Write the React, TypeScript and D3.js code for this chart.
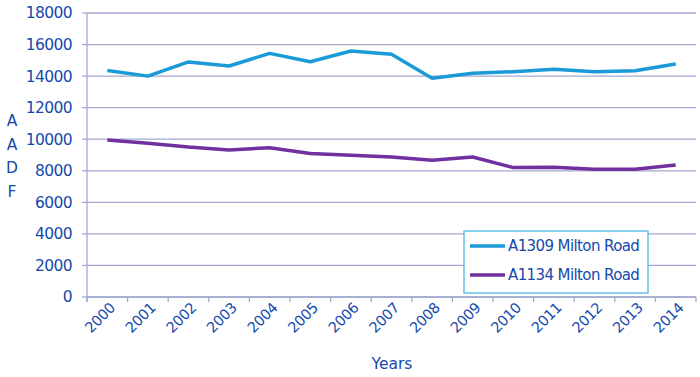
import React from "react";
import * as d3 from "d3";

const years = ["2000","2001","2002","2003","2004","2005","2006","2007","2008","2009","2010","2011","2012","2013","2014"];
const a1309 = [14350,14000,14900,14640,15440,14910,15590,15380,13860,14180,14280,14430,14280,14340,14770];
const a1134 = [9950,9740,9500,9320,9460,9100,8980,8870,8660,8870,8200,8220,8090,8090,8360];
const yTicks = [0,2000,4000,6000,8000,10000,12000,14000,16000,18000];
const seriesNames = ["A1309 Milton Road","A1134 Milton Road"];
const seriesColors = ["#1B9AD8","#7030A0"];
const yTitle = ["A","A","D","F"];

const W = 700, H = 377;
const left = 87, right = 696, top = 13, bottom = 297;
const textColor = "#1549AC";
const gridColor = "#A3A9D0";
const font = "DejaVu Sans, Verdana, sans-serif";

export default function App() {
  const x = d3.scaleBand().domain(years).range([left, right]);
  const y = d3.scaleLinear().domain([0, 18000]).range([bottom, top]);
  const line = d3.line<number>().x((_, i) => x(years[i])! + x.bandwidth() / 2).y(d => y(d));
  const series = [a1309, a1134];
  const boundaries = years.map(yr => x(yr)!).concat([right]);
  return (
    <svg width={W} height={H} style={{ position: "absolute", left: 0, top: 0 }} fontFamily={font}>
      <rect width={W} height={H} fill="#fff" />
      {yTicks.map(t => (
        <g key={t}>
          <line x1={left} x2={right} y1={y(t)} y2={y(t)} stroke={gridColor} strokeWidth={1.3} />
          <line x1={left - 5} x2={left} y1={y(t)} y2={y(t)} stroke={gridColor} strokeWidth={1.3} />
          <text x={72} y={y(t)} dy="0.35em" textAnchor="end" fontSize={15.5} fill={textColor} letterSpacing={-0.6}>{t}</text>
        </g>
      ))}
      <line x1={left} x2={left} y1={top} y2={bottom + 5} stroke={gridColor} strokeWidth={1.3} />
      <line x1={left} x2={right} y1={bottom} y2={bottom} stroke={gridColor} strokeWidth={1.5} />
      {boundaries.map((b, i) => (
        <line key={i} x1={b} x2={b} y1={bottom} y2={bottom + 5} stroke={gridColor} strokeWidth={1.3} />
      ))}
      {years.map(yr => {
        const cx = x(yr)! + x.bandwidth() / 2;
        return (
          <text key={yr} transform={`translate(${cx + 1},${bottom + 4}) rotate(-45)`} textAnchor="end" dy="0.75em" fontSize={14.5} fill={textColor} letterSpacing={-0.4}>{yr}</text>
        );
      })}
      {series.map((s, i) => (
        <path key={i} d={line(s)!} fill="none" stroke={seriesColors[i]} strokeWidth={3.5} strokeLinejoin="round" />
      ))}
      {yTitle.map((c, i) => (
        <text key={i} x={12} y={126 + i * 23.5} textAnchor="middle" fontSize={15.5} fill={textColor}>{c}</text>
      ))}
      <text x={392} y={369} textAnchor="middle" fontSize={15.5} fill={textColor}>Years</text>
      <rect x={464} y={231} width={184} height={62} fill="#fff" stroke="#4DB7E6" strokeWidth={1.3} />
      {seriesNames.map((n, i) => (
        <g key={n}>
          <line x1={470} x2={505} y1={246 + i * 29} y2={246 + i * 29} stroke={seriesColors[i]} strokeWidth={3.5} />
          <text x={508} y={246 + i * 29} dy="0.35em" fontSize={15} fill={textColor} letterSpacing={-0.6}>{n}</text>
        </g>
      ))}
    </svg>
  );
}
